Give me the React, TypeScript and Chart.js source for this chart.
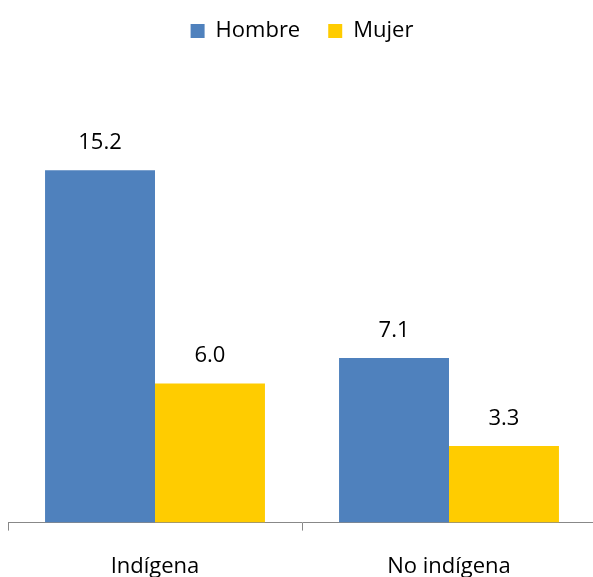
import React, { useEffect, useRef } from "react";
import { Chart, registerables } from "chart.js";

Chart.register(...registerables);

const categories = ["Indígena", "No indígena"];
const hombreValues = [15.2, 7.1];
const mujerValues = [6.0, 3.3];
const seriesNames = ["Hombre", "Mujer"];

const FONT = "'Open Sans', sans-serif";

const valueLabels = {
  id: "valueLabels",
  afterDatasetsDraw(chart: any) {
    const ctx = chart.ctx;
    ctx.save();
    ctx.fillStyle = "#000";
    ctx.font = `22px ${FONT}`;
    ctx.textAlign = "center";
    ctx.textBaseline = "middle";
    chart.data.datasets.forEach((ds: any, i: number) => {
      const meta = chart.getDatasetMeta(i);
      meta.data.forEach((bar: any, j: number) => {
        const v = ds.data[j] as number;
        ctx.fillText(v.toFixed(1), bar.x, bar.y - 27.5);
      });
    });
    ctx.restore();
  },
};

const legendMargin = {
  id: "legendMargin",
  beforeInit(chart: any) {
    const legend = chart.legend;
    if (!legend) return;
    const orig = legend.fit;
    legend.fit = function () {
      orig.call(this);
      this.height += 7;
    };
  },
};

export default function App() {
  const ref = useRef<HTMLCanvasElement>(null);
  useEffect(() => {
    if (!ref.current) return;
    const chart = new Chart(ref.current, {
      type: "bar",
      data: {
        labels: categories,
        datasets: [
          { label: seriesNames[0], data: hombreValues, backgroundColor: "#4F81BD" },
          { label: seriesNames[1], data: mujerValues, backgroundColor: "#FFCC00" },
        ],
      },
      options: {
        animation: false,
        responsive: false,
        devicePixelRatio: 1,
        layout: { padding: { left: 8, right: 4, top: -8, bottom: -26 } },
        datasets: { bar: { barPercentage: 1, categoryPercentage: 0.748 } },
        plugins: {
          legend: {
            position: "top",
            labels: {
              boxWidth: 14,
              boxHeight: 14,
              color: "#000",
              padding: 28,
              font: { family: FONT, size: 22 },
            },
          },
          tooltip: { enabled: false },
        },
        scales: {
          x: {
            grid: {
              display: true,
              drawOnChartArea: false,
              drawTicks: true,
              tickLength: 8,
              color: "#888",
              offset: true,
            },
            border: { display: true, color: "#888", width: 1 },
            ticks: { color: "#000", padding: 23, font: { family: FONT, size: 22 } },
          },
          y: {
            display: false,
            min: 0,
            max: 20,
          },
        },
      },
      plugins: [legendMargin, valueLabels],
    });
    return () => chart.destroy();
  }, []);
  return (
    <div style={{ position: "fixed", left: 0, top: 0, width: 600, height: 577, background: "#fff" }}>
      <canvas ref={ref} width={600} height={577} />
    </div>
  );
}
